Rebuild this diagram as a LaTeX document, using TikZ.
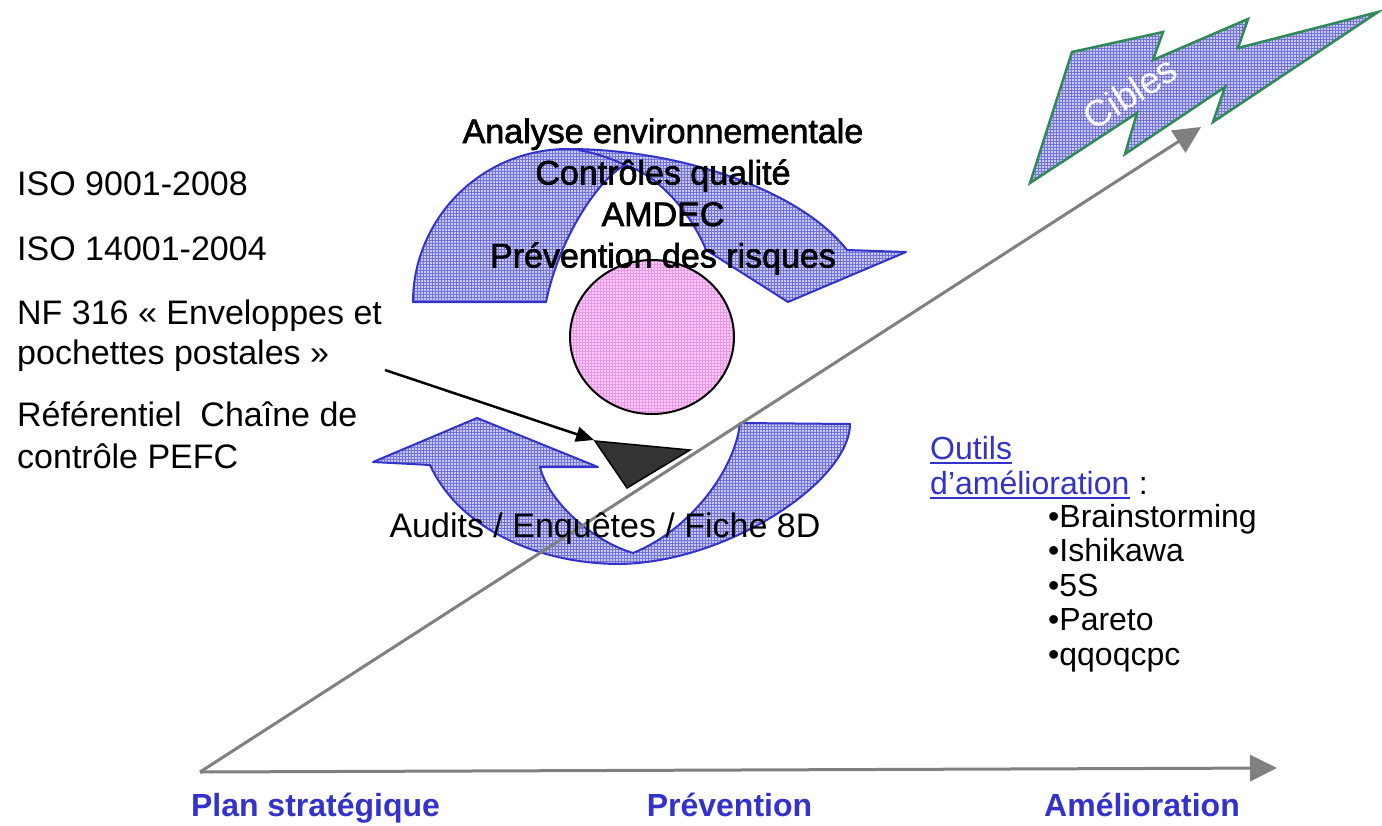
\documentclass[tikz,border=0pt]{standalone}
\usepackage{fontspec}
\setmainfont{Liberation Sans}
\newfontfamily\heavyfont[FakeBold=2]{Liberation Sans}
\usetikzlibrary{arrows.meta,patterns,shapes.geometric}
\definecolor{lblue}{RGB}{51,51,204}
\definecolor{hatchfill}{RGB}{200,200,242}
\definecolor{hatchline}{RGB}{115,115,215}
\definecolor{pinkfill}{RGB}{252,205,248}
\definecolor{pinkline}{RGB}{235,150,230}
\definecolor{axisgray}{RGB}{128,128,128}
\definecolor{boltgreen}{RGB}{46,139,87}
\definecolor{tridark}{RGB}{51,51,51}
\tikzset{
  blueshape/.style={preaction={fill=hatchfill}, pattern=grid, pattern color=hatchline, draw=lblue, line width=2pt, line join=round},
  boltshape/.style={preaction={fill=hatchfill}, pattern=grid, pattern color=hatchline, draw=boltgreen, line width=2.5pt, line join=miter},
  pinkshape/.style={preaction={fill=pinkfill}, pattern=grid, pattern color=pinkline, draw=black, line width=2pt},
  axis/.style={draw=axisgray, line width=3pt, -{Triangle[length=27pt,width=26pt]}},
  pointer/.style={draw=black, line width=2.5pt, -{Triangle[length=18pt,width=15pt]}},
  txt/.style={inner sep=0pt, font=\fontsize{34}{40}\selectfont},
  toptxt/.style={inner sep=0pt, font=\heavyfont\fontsize{34}{40}\selectfont, anchor=base},
  listtxt/.style={inner sep=0pt, font=\fontsize{32}{38}\selectfont, anchor=base west},
  axlabel/.style={inner sep=0pt, text=lblue, font=\bfseries\fontsize{32}{38}\selectfont, anchor=base},
}
\begin{document}
\begin{tikzpicture}[x=1pt,y=-1pt]
\useasboundingbox (0,0) rectangle (1382,825);
\fill[white] (0,0) rectangle (1382,825);

% coordinates
\coordinate (o) at (200,772);
\coordinate (xend) at (1277,768);
\coordinate (dend) at (1201,127);
\coordinate (ba) at (385,370);
\coordinate (triA) at (595,441);
\coordinate (triB) at (690,450);
\coordinate (triC) at (627,488);

% top curved arrow
\draw[blueshape] (413,302) .. controls (413,220) and (480,149) .. (568,149)
  .. controls (680,149) and (800,190) .. (847,250) -- (906,252) -- (788,302) -- (706,250)
  .. controls (695,222) and (665,178) .. (625,165)
  .. controls (600,178) and (560,235) .. (546,302) -- cycle;
\draw[lblue,line width=2pt] (625,165) .. controls (610,158) and (595,153) .. (578,150);

% bottom curved arrow
\draw[blueshape] (477,418) -- (598,467) -- (540,467)
  .. controls (548,500) and (590,540) .. (633,553)
  .. controls (690,530) and (735,470) .. (740,423) -- (850,424)
  .. controls (850,480) and (730,562) .. (620,564)
  .. controls (540,564) and (460,530) .. (430,465) -- (373,462) -- cycle;

% pink circle
\node (circ) [ellipse, pinkshape, minimum width=164pt, minimum height=154pt, inner sep=0pt] at (652,337) {};

% dark triangle
\draw[fill=tridark, draw=black, line width=1.5pt, line join=miter] (triA) -- (triB) -- (triC) -- cycle;

% lightning
\draw[boltshape] (1030,183) -- (1072,52) -- (1163,32) -- (1153,60) -- (1248,19) -- (1238,48)
  -- (1378,12) -- (1213,122) -- (1225,87) -- (1125,154) -- (1137,113) -- cycle;
\node (cibles) [inner sep=0pt, text=white, rotate=32, font=\fontsize{37}{40}\selectfont] at (1130,93) {Cibles};

% axes
\draw[axis] (o) -- (xend);
\draw[axis] (o) -- (dend);

% pointer arrow
\draw[pointer] (ba) -- ([xshift=-1pt,yshift=1pt]triA);

% top text
\node (a1) [toptxt] at (663,143) {Analyse environnementale};
\node (a2) [toptxt] at (663,184.5) {Contrôles qualité};
\node (a3) [toptxt] at (663,226) {AMDEC};
\node (a4) [toptxt] at (663,267.5) {Prévention des risques};

% bottom arrow text
\node (aud) [txt, anchor=base] at (605,537) {Audits / Enquêtes / Fiche 8D};

% left text
\node (l1) [txt, anchor=base west] at (17,195) {ISO 9001-2008};
\node (l2) [txt, anchor=base west] at (17,260) {ISO 14001-2004};
\node (l3) [txt, anchor=base west] at (17,324) {NF 316 « Enveloppes et};
\node (l4) [txt, anchor=base west] at (17,364) {pochettes postales »};
\node (l5) [txt, anchor=base west] at (17,426) {Référentiel\ \ Chaîne de};
\node (l6) [txt, anchor=base west] at (17,468) {contrôle PEFC};

% right text
\node (o1) [listtxt, text=lblue] at (930,459) {Outils};
\node (o2) [listtxt, text=lblue] at (930,494) {d’amélioration};
\draw[lblue, line width=2pt] ([yshift=-4pt]o1.base west) -- ([yshift=-4pt]o1.base east);
\draw[lblue, line width=2pt] ([yshift=-4pt]o2.base west) -- ([yshift=-4pt]o2.base east);
\node (colon) [listtxt] at ([xshift=9pt]o2.base east) {:};
\node (b1) [listtxt] at (1048,527) {•Brainstorming};
\node (b2) [listtxt] at (1048,561.5) {•Ishikawa};
\node (b3) [listtxt] at (1048,596) {•5S};
\node (b4) [listtxt] at (1048,630.5) {•Pareto};
\node (b5) [listtxt] at (1048,665) {•qqoqcpc};

% axis labels
\node (p1) [axlabel] at (315.5,816) {Plan stratégique};
\node (p2) [axlabel] at (729.5,816) {Prévention};
\node (p3) [axlabel] at (1142,816) {Amélioration};
\end{tikzpicture}
\end{document}
